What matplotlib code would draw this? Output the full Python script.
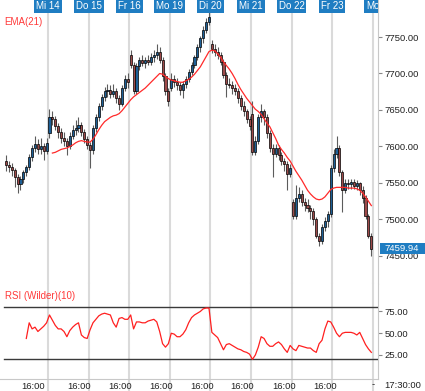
#!/usr/bin/env python3

import numpy as np
import matplotlib
matplotlib.use('Agg')
import matplotlib.pyplot as plt
import matplotlib.transforms as mtransforms
from matplotlib.patches import Rectangle
from matplotlib.ticker import FormatStrFormatter

plt.rcParams['font.family'] = ['Liberation Sans', 'DejaVu Sans']

# hourly candles, bar index on x
opens = [7580, 7575, 7572, 7568, 7558, 7548, 7555, 7565, 7572, 7585,
         7598, 7603, 7596, 7600, 7594, 7618, 7640, 7638, 7628, 7620,
         7612, 7608, 7600, 7615, 7622, 7626, 7630, 7620, 7610, 7602,
         7595, 7625, 7640, 7655, 7668, 7676, 7678, 7672, 7676, 7666,
         7658, 7680, 7692, 7726, 7712, 7676, 7710, 7718, 7714, 7718,
         7716, 7722, 7726, 7730, 7718, 7696, 7676, 7680, 7692, 7688,
         7684, 7678, 7686, 7692, 7702, 7712, 7722, 7736, 7748, 7760,
         7770, 7740, 7734, 7730, 7726, 7716, 7698, 7686, 7684, 7680,
         7676, 7666, 7656, 7648, 7638, 7645, 7592, 7608, 7640, 7648,
         7640, 7618, 7598, 7590, 7598, 7588, 7580, 7576, 7562, 7524,
         7505, 7530, 7535, 7524, 7520, 7516, 7512, 7500, 7478, 7470,
         7490, 7498, 7508, 7570, 7590, 7598, 7565, 7540, 7550, 7548,
         7552, 7546, 7550, 7540, 7530, 7505, 7478]
highs = [7588, 7580, 7578, 7570, 7562, 7560, 7568, 7575, 7590, 7602,
         7615, 7610, 7612, 7605, 7612, 7652, 7648, 7642, 7632, 7625,
         7620, 7612, 7620, 7630, 7636, 7640, 7634, 7624, 7614, 7606,
         7630, 7645, 7660, 7672, 7682, 7686, 7684, 7685, 7680, 7670,
         7684, 7698, 7700, 7732, 7716, 7715, 7722, 7725, 7722, 7726,
         7728, 7732, 7740, 7736, 7722, 7700, 7680, 7700, 7698, 7694,
         7688, 7690, 7696, 7706, 7716, 7726, 7740, 7752, 7765, 7776,
         7784, 7746, 7740, 7736, 7730, 7720, 7702, 7694, 7690, 7686,
         7680, 7670, 7662, 7652, 7642, 7662, 7615, 7645, 7658, 7652,
         7644, 7622, 7604, 7604, 7602, 7592, 7584, 7580, 7576, 7528,
         7547, 7545, 7540, 7530, 7528, 7520, 7516, 7504, 7482, 7494,
         7504, 7512, 7574, 7596, 7615, 7602, 7568, 7556, 7556, 7556,
         7556, 7554, 7552, 7546, 7534, 7508, 7482]
lows = [7566, 7565, 7560, 7545, 7536, 7540, 7550, 7560, 7568, 7580,
        7592, 7590, 7590, 7582, 7590, 7612, 7630, 7622, 7612, 7605,
        7600, 7588, 7596, 7610, 7616, 7620, 7615, 7605, 7596, 7570,
        7590, 7620, 7635, 7650, 7662, 7668, 7666, 7668, 7660, 7650,
        7655, 7676, 7680, 7708, 7672, 7672, 7705, 7710, 7708, 7712,
        7712, 7716, 7720, 7714, 7690, 7670, 7655, 7676, 7682, 7678,
        7670, 7666, 7680, 7688, 7698, 7708, 7718, 7730, 7742, 7755,
        7766, 7728, 7724, 7720, 7712, 7694, 7668, 7680, 7672, 7670,
        7660, 7650, 7642, 7632, 7622, 7588, 7588, 7604, 7634, 7630,
        7612, 7592, 7558, 7586, 7582, 7574, 7566, 7540, 7558, 7500,
        7500, 7524, 7518, 7512, 7510, 7500, 7492, 7474, 7464, 7466,
        7484, 7490, 7504, 7565, 7584, 7560, 7510, 7536, 7542, 7542,
        7542, 7540, 7534, 7522, 7500, 7474, 7450]
closes = [7575, 7572, 7568, 7558, 7548, 7555, 7565, 7572, 7585, 7598,
          7603, 7596, 7600, 7594, 7605, 7640, 7638, 7628, 7620, 7612,
          7608, 7600, 7615, 7622, 7626, 7630, 7620, 7610, 7602, 7595,
          7625, 7640, 7655, 7668, 7676, 7678, 7672, 7676, 7666, 7658,
          7680, 7692, 7688, 7712, 7676, 7710, 7718, 7714, 7718, 7716,
          7722, 7726, 7730, 7718, 7696, 7676, 7662, 7692, 7688, 7684,
          7678, 7686, 7692, 7702, 7712, 7722, 7736, 7748, 7760, 7770,
          7778, 7734, 7730, 7726, 7716, 7698, 7686, 7684, 7680, 7676,
          7666, 7656, 7648, 7638, 7628, 7592, 7608, 7640, 7648, 7640,
          7618, 7598, 7590, 7598, 7588, 7580, 7576, 7562, 7570, 7505,
          7530, 7535, 7524, 7520, 7516, 7512, 7500, 7478, 7470, 7490,
          7498, 7508, 7570, 7590, 7598, 7565, 7540, 7550, 7548, 7552,
          7546, 7550, 7540, 7530, 7505, 7478, 7459.94]

ema_start = 16
ema21 = [7591, 7592, 7594, 7596, 7597, 7598, 7600, 7602, 7605, 7607,
         7608, 7607, 7606, 7606, 7610, 7616, 7623, 7629, 7634, 7637,
         7640, 7642, 7643, 7645, 7649, 7654, 7659, 7664, 7668, 7671,
         7674, 7677, 7680, 7684, 7688, 7692, 7696, 7700, 7699, 7696,
         7693, 7691, 7690, 7689, 7688, 7688, 7690, 7692, 7695, 7699,
         7704, 7709, 7716, 7723, 7730, 7732, 7731, 7727, 7722, 7716,
         7711, 7706, 7700, 7693, 7685, 7678, 7672, 7666, 7661, 7656,
         7651, 7648, 7644, 7638, 7632, 7627, 7619, 7611, 7602, 7596,
         7591, 7585, 7580, 7573, 7566, 7560, 7554, 7547, 7540, 7535,
         7531, 7528, 7527, 7528, 7531, 7536, 7541, 7543, 7544, 7544,
         7544, 7544, 7543, 7543, 7543, 7542, 7540, 7536, 7531, 7525,
         7519]

rsi_start = 7
rsi10 = [44, 62, 55, 57, 52, 55, 58, 62, 71, 65,
         59, 55, 55, 52, 46, 53, 57, 60, 62, 48,
         45, 44, 54, 62, 66, 70, 72, 73, 72, 71,
         62, 57, 67, 68, 66, 66, 71, 55, 63, 63,
         62, 62, 64, 65, 66, 63, 52, 38, 34, 38,
         50, 49, 46, 46, 49, 54, 62, 68, 71, 73,
         75, 78, 79, 79, 51, 48, 45, 38, 31, 37,
         38, 36, 34, 32, 31, 29, 28, 26, 20, 25,
         34, 46, 44, 38, 35, 35, 38, 40, 37, 32,
         28, 36, 32, 30, 36, 35, 34, 33, 33, 30,
         28, 38, 42, 55, 64, 63, 57, 50, 46, 50,
         51, 51, 51, 50, 48, 51, 44, 37, 32, 28]

day_lines = [14.5, 28.5, 42.5, 56.5, 70.5, 84.5, 98.5, 112.5, 126.5]
day_labels = ['Mi 14', 'Do 15', 'Fr 16', 'Mo 19', 'Di 20', 'Mi 21', 'Do 22', 'Fr 23', 'Mo']
hour_ticks = [9.3, 25.2, 39.2, 53.5, 67.5, 81.5, 95.8, 110.0]
hour_labels = ['16:00'] * len(hour_ticks)
price_ticks = [7450, 7500, 7550, 7600, 7650, 7700, 7750]
rsi_ticks = [25, 50, 75]
rsi_levels = [80, 20]
last_price = 7459.94

W, H = 425, 391
fig = plt.figure(figsize=(W / 100, H / 100), dpi=100, facecolor='white')
ax = fig.add_axes([0, 1 - 284 / H, 378 / W, 284 / H])
ax_rsi = fig.add_axes([0, 1 - 379 / H, 378 / W, 95 / H], sharex=ax)

o = np.array(opens, dtype=float)
h = np.array(highs, dtype=float)
l = np.array(lows, dtype=float)
c = np.array(closes, dtype=float)
x = np.arange(len(c))
up = c >= o

# candles
ax.vlines(x, l, h, color='#5c5c5c', lw=0.8, zorder=2)
bottom = np.minimum(o, c)
height = np.maximum(np.abs(c - o), 0.8)
ax.bar(x[up], height[up], bottom=bottom[up], width=0.72,
       color='#1d5f96', edgecolor='black', linewidth=0.5, zorder=3)
ax.bar(x[~up], height[~up], bottom=bottom[~up], width=0.72,
       color='#9e4a4a', edgecolor='black', linewidth=0.5, zorder=3)

ax.plot(np.arange(ema_start, ema_start + len(ema21)), ema21,
        color='#ff2a2a', lw=0.9, zorder=4)

ax.set_xlim(-2.07, 128.3)
ax.set_ylim(7411.6, 7800.7)

ax_rsi.plot(np.arange(rsi_start, rsi_start + len(rsi10)), rsi10,
            color='#ff2020', lw=0.9, zorder=4)
for lev in rsi_levels:
    ax_rsi.axhline(lev, xmin=0.01, color='#3a3a3a', lw=1.0, zorder=3)
ax_rsi.set_ylim(-2.6, 106.6)

for a in (ax, ax_rsi):
    for s in ('left', 'top', 'bottom'):
        a.spines[s].set_visible(False)
    a.spines['right'].set_color('#c8c8c8')
    a.yaxis.tick_right()
    a.yaxis.set_major_formatter(FormatStrFormatter('%.2f'))
    a.tick_params(axis='y', direction='out', length=3, width=0.8, color='#888888',
                  labelsize=6.8, labelcolor='#222222', pad=2)
    a.set_facecolor('white')

ax.set_yticks(price_ticks)
ax_rsi.set_yticks(rsi_ticks)
ax.tick_params(axis='x', bottom=False, labelbottom=False)

ax_rsi.spines['bottom'].set_visible(True)
ax_rsi.spines['bottom'].set_color('#c8c8c8')
ax_rsi.set_xticks(hour_ticks)
ax_rsi.set_xticklabels(hour_labels)
ax_rsi.tick_params(axis='x', length=0, labelsize=6.8, labelcolor='#222222', pad=2)

# day separators + date labels
trans_top = mtransforms.blended_transform_factory(ax.transData, ax.transAxes)
for d, lab in zip(day_lines, day_labels):
    ax.axvline(d, color='#dadada', lw=1.5, zorder=0)
    ax_rsi.axvline(d, ymin=-0.13, ymax=1, color='#dadada', lw=1.5, zorder=0, clip_on=False)
    ax.text(d, 0.996, lab, transform=trans_top, ha='center', va='top', fontsize=7,
            color='white', zorder=6, clip_on=True,
            bbox=dict(boxstyle='square,pad=0.2', fc='#1f7dc2', ec='none'))

ax.text(4 / 378, 1 - 22 / 284, 'EMA(21)', transform=ax.transAxes, va='center',
        ha='left', fontsize=7, color='#ff3a3a')
ax_rsi.text(5 / 378, 1 - 12 / 95, 'RSI (Wilder)(10)', transform=ax_rsi.transAxes,
            va='center', ha='left', fontsize=7, color='#ff3a3a')

# last price marker: box reaching the right edge of the figure
trans_r = mtransforms.blended_transform_factory(ax.transAxes, ax.transData)
box_h = 11 * (7800.7 - 7411.6) / 284
ax.add_patch(Rectangle((380 / 378, last_price - box_h / 2), 46 / 378, box_h,
                       transform=trans_r, fc='#1f7dc2', ec='none', zorder=7, clip_on=False))
ax.text(384 / 378, last_price, '%.2f' % last_price, transform=trans_r,
        ha='left', va='center', fontsize=6.8, color='white', zorder=8, clip_on=False)

fig.text(373 / W, 1 - 385 / H, '-', ha='center', va='center', fontsize=6.8, color='#222222')
fig.text(403 / W, 1 - 385 / H, '17:30:00', ha='center', va='center', fontsize=6.8,
         color='#222222')

fig.savefig('out.png', dpi=100, facecolor='white')
